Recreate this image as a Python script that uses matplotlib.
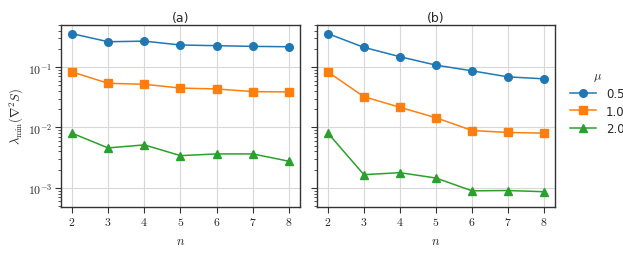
import math
import matplotlib
matplotlib.use("Agg")
import matplotlib.pyplot as plt
from matplotlib.ticker import FuncFormatter, LogLocator

plt.rcParams["mathtext.fontset"] = "cm"
plt.rcParams["font.family"] = ["DejaVu Sans"]
plt.rcParams["text.color"] = "#262626"
plt.rcParams["axes.labelcolor"] = "#262626"
plt.rcParams["xtick.color"] = "#262626"
plt.rcParams["ytick.color"] = "#262626"

n_values = [2, 3, 4, 5, 6, 7, 8]
mu_labels = ["0.5", "1.0", "2.0"]

# panel (a)
a_mu05 = [0.36, 0.264, 0.27, 0.233, 0.227, 0.221, 0.218]
a_mu10 = [0.0836, 0.054, 0.052, 0.045, 0.0435, 0.0393, 0.0388]
a_mu20 = [0.00805, 0.00458, 0.00514, 0.00341, 0.00364, 0.00364, 0.00275]

# panel (b)
b_mu05 = [0.36, 0.213, 0.149, 0.108, 0.0869, 0.069, 0.064]
b_mu10 = [0.0836, 0.0324, 0.0216, 0.0145, 0.0089, 0.00826, 0.00805]
b_mu20 = [0.0081, 0.00165, 0.00178, 0.00145, 0.00089, 0.0009, 0.00086]

colors = ["#1f77b4", "#ff7f0e", "#2ca02c"]
markers = ["o", "s", "^"]

fig = plt.figure(figsize=(6.23, 2.55), dpi=100)
ax_a = fig.add_axes([61 / 623, 1 - 208 / 255, 239 / 623, 182 / 255])
ax_b = fig.add_axes([317 / 623, 1 - 208 / 255, 238 / 623, 182 / 255], sharey=ax_a)


def math_fmt(x, pos):
    return r"$%d$" % x


def log_fmt(y, pos):
    e = int(round(math.log10(y)))
    return r"$10^{%d}$" % e


for ax, series, title in [(ax_a, [a_mu05, a_mu10, a_mu20], "(a)"),
                          (ax_b, [b_mu05, b_mu10, b_mu20], "(b)")]:
    for vals, c, m, lab in zip(series, colors, markers, mu_labels):
        ax.plot(n_values, vals, color=c, marker=m, markersize=5.5,
                linewidth=1.1, label=lab)
    ax.set_yscale("log")
    ax.set_xticks(n_values)
    ax.xaxis.set_major_formatter(FuncFormatter(math_fmt))
    ax.grid(True, which="major", color="#d8d8d8", linewidth=0.8)
    ax.set_axisbelow(True)
    ax.set_title(title, fontsize=9, pad=3)
    ax.set_xlabel(r"$n$", fontsize=9)
    ax.tick_params(which="major", direction="out", length=4, width=0.8,
                   color="#333333", labelsize=8.5, pad=2)
    ax.tick_params(which="minor", direction="out", length=2, width=0.6,
                   color="#333333")
    for s in ax.spines.values():
        s.set_color("#333333")
        s.set_linewidth(1.0)

ax_a.set_xlim(1.7, 8.3)
ax_b.set_xlim(1.7, 8.3)
ax_a.set_ylim(4.8e-4, 0.5)
ax_a.yaxis.set_major_locator(LogLocator(base=10, numticks=10))
ax_a.yaxis.set_minor_locator(LogLocator(base=10, subs=range(2, 10), numticks=10))
ax_a.yaxis.set_major_formatter(FuncFormatter(log_fmt))
ax_a.set_ylabel(r"$\lambda_{\min}(\nabla^2 S)$", fontsize=9, labelpad=2)
plt.setp(ax_b.get_yticklabels(), visible=False)

leg = ax_b.legend(title=r"$\mu$", loc="center left", bbox_to_anchor=(1.02, 0.58),
                  frameon=False, fontsize=8.5, title_fontsize=9,
                  handlelength=2.2, handletextpad=0.8, labelspacing=0.35)

fig.savefig("out.png", dpi=100)
